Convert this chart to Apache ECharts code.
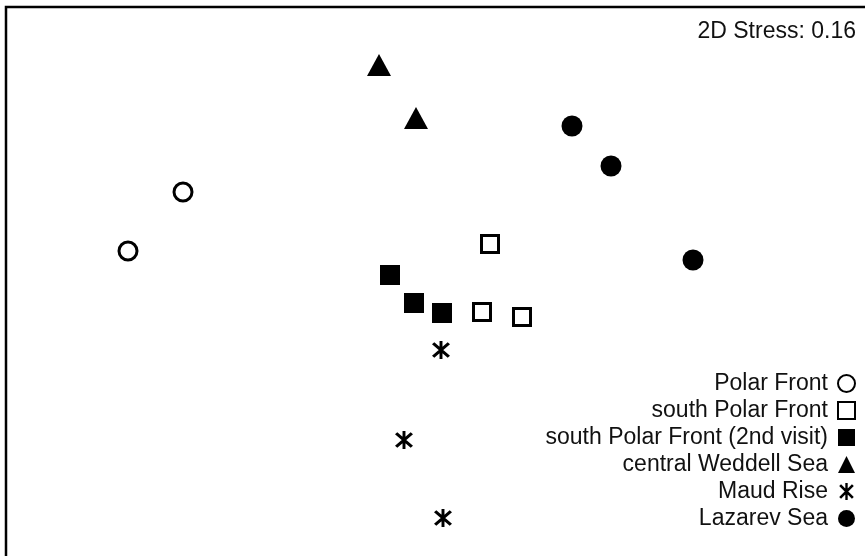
<!DOCTYPE html>
<html>
<head>
<meta charset="utf-8">
<script src="https://cdn.jsdelivr.net/npm/echarts@6/dist/echarts.min.js"></script>
<style>html,body{margin:0;padding:0;background:#fff}#c{width:865px;height:556px}</style>
</head>
<body>
<div id="c"></div>
<script>
// MDS ordination coordinates (arbitrary units)
const seriesNames = ['Polar Front', 'south Polar Front', 'south Polar Front (2nd visit)', 'central Weddell Sea', 'Maud Rise', 'Lazarev Sea'];
const polarFront = [[-2.49, 0.86], [-3.04, 0.27]];
const southPolarFront = [[0.58, 0.34], [0.50, -0.34], [0.90, -0.39]];
const southPolarFront2 = [[-0.42, 0.03], [-0.18, -0.25], [0.10, -0.35]];
const centralWeddell = [[-0.53, 2.13], [-0.16, 1.60]];
const maudRise = [[0.09, -0.72], [-0.28, -1.62], [0.11, -2.40]];
const lazarevSea = [[1.40, 1.52], [1.79, 1.12], [2.61, 0.18]];
const stressLabel = '2D Stress: 0.16';

const asterisk = 'path://M8.6,0H11.4V20H8.6Z M1.4,3.6L3.6,1.4L18.6,16.4L16.4,18.6Z M16.4,1.4L18.6,3.6L3.6,18.6L1.4,16.4Z';
const FONT = 'Liberation Sans';

const chart = echarts.init(document.getElementById('c'), null, {renderer: 'canvas'});
const mk = (name, data, symbol, size, style) => ({
  name, type: 'scatter', data, symbol, symbolSize: size,
  itemStyle: Object.assign({opacity: 1}, style),
  emphasis: {disabled: true}, z: 3
});
chart.setOption({
  animation: false,
  backgroundColor: '#fff',
  grid: {left: 6, top: 7, right: 0, bottom: 0, show: false},
  xAxis: {type: 'value', min: -4.26, max: 4.33, show: false},
  yAxis: {type: 'value', min: -2.78, max: 2.71, show: false},
  graphic: [{
    type: 'polyline', silent: true,
    shape: {points: [[6, 560], [6, 7], [870, 7]]},
    style: {stroke: '#000', lineWidth: 2.5, fill: null}
  }],
  title: {
    text: stressLabel, right: 9, top: 20, padding: 0,
    textStyle: {fontFamily: FONT, fontSize: 23, fontWeight: 'normal', color: '#111'}
  },
  legend: {
    orient: 'vertical', align: 'right', right: 9, top: 372, padding: 0,
    itemWidth: 17, itemHeight: 17, itemGap: 4,
    textStyle: {fontFamily: FONT, fontSize: 23, color: '#111', padding: [0, 5, 0, 0]},
    data: seriesNames
  },
  series: [
    mk(seriesNames[0], polarFront, 'circle', 18, {color: '#fff', borderColor: '#000', borderWidth: 3}),
    mk(seriesNames[1], southPolarFront, 'rect', 17, {color: '#fff', borderColor: '#000', borderWidth: 3}),
    mk(seriesNames[2], southPolarFront2, 'rect', 20, {color: '#000'}),
    mk(seriesNames[3], centralWeddell, 'triangle', [24, 22], {color: '#000'}),
    mk(seriesNames[4], maudRise, asterisk, 18, {color: '#000'}),
    mk(seriesNames[5], lazarevSea, 'circle', 21, {color: '#000'})
  ]
});
</script>
</body>
</html>
